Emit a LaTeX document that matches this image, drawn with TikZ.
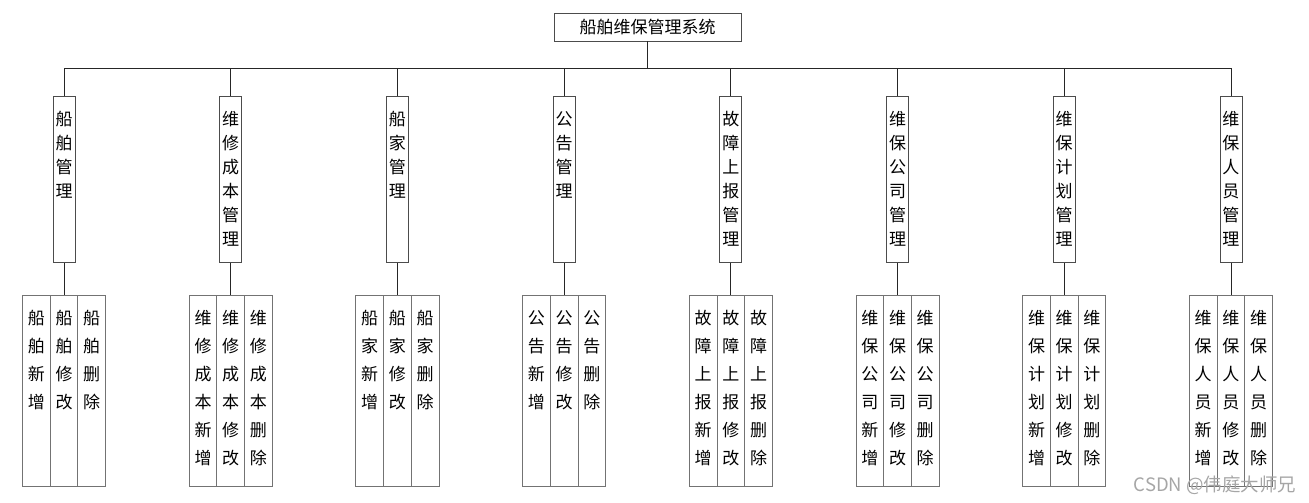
\documentclass[tikz,border=0pt]{standalone}
\usepackage{fontspec}
\setmainfont{Noto Sans CJK SC}

% vertical column of characters in a fixed box
\newcommand{\vcol}[3]{\parbox[c][#2][t]{#1}{\centering\vspace*{15pt}#3}}

\begin{document}
\begin{tikzpicture}[x=1pt, y=-1pt,
    rootbox/.style={draw=black!70, line width=0.8pt, minimum width=187pt, minimum height=28pt,
      inner sep=0pt, font=\fontsize{17}{20}\selectfont},
    modbox/.style={draw=black!70, line width=0.8pt, inner sep=0pt, anchor=north,
      font=\fontsize{17}{24}\selectfont},
    subbox/.style={draw=black!55, line width=0.8pt, inner sep=0pt, anchor=north,
      font=\fontsize{17}{28}\selectfont},
    link/.style={draw=black!85, line width=0.8pt}]
    \useasboundingbox (0,0) rectangle (1309,503);

    % Root
    \node[rootbox] (root) at (647.5,27) {船舶维保管理系统};
    \coordinate (bus) at (647.5,68);

    % Modules and their operations
    \foreach \i/\p in {1/船\\舶, 2/维\\修\\成\\本, 3/船\\家, 4/公\\告,
                       5/故\\障\\上\\报, 6/维\\保\\公\\司, 7/维\\保\\计\\划, 8/维\\保\\人\\员}{
        \pgfmathsetmacro\cx{64+166.7*(\i-1)}
        \node[modbox] (m\i) at (\cx,96) {\vcol{22pt}{166pt}{\p\\管\\理}};
        \node[subbox] (c\i1) at (\cx-27.7,295) {\vcol{27.7pt}{191pt}{\p\\新\\增}};
        \node[subbox] (c\i2) at (\cx,295) {\vcol{27.7pt}{191pt}{\p\\修\\改}};
        \node[subbox] (c\i3) at (\cx+27.7,295) {\vcol{27.7pt}{191pt}{\p\\删\\除}};
        \draw[link] (root.south) -- (bus) -| (m\i.north);
        \draw[link] (m\i.south) -- (c\i2.north);
    }

    % Watermark
    \node[anchor=east, text=gray!70, font=\fontsize{18.5}{18.5}\selectfont] (wm) at (1300,485) {CSDN @伟庭大师兄};
\end{tikzpicture}
\end{document}
